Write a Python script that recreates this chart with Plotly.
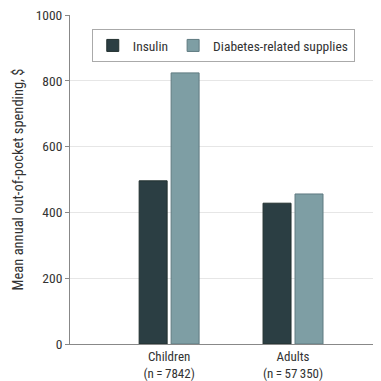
import plotly.graph_objects as go

categories = ["Children<br>(n\u2009=\u20097842)", "Adults<br>(n\u2009=\u200957\u2009350)"]
insulin = [496, 428]
supplies = [824, 456]
series_names = ["Insulin", "Diabetes-related supplies"]
y_ticks = [0, 200, 400, 600, 800, 1000]

FONT = "Liberation Sans Narrow, Arial Narrow, Roboto Condensed, sans-serif"

fig = go.Figure()
fig.add_trace(go.Bar(x=categories, y=insulin, name=series_names[0],
                     marker=dict(color="#2b3e43", line=dict(color="#22302f", width=1))))
fig.add_trace(go.Bar(x=categories, y=supplies, name=series_names[1],
                     marker=dict(color="#7e9ea4", line=dict(color="#5f7a80", width=1))))

# page body has ~8px default margin, so figure is shrunk by 8px and margins offset
fig.update_layout(
    width=373, height=373,
    margin=dict(l=62, r=0, t=7, b=37),
    paper_bgcolor="white", plot_bgcolor="white",
    barmode="group", bargap=0.484, bargroupgap=0.125,
    font=dict(family=FONT, size=13, color="#333"),
    legend=dict(orientation="h", x=0.07, y=0.957, xanchor="left", yanchor="top",
                bordercolor="#aaaaaa", borderwidth=1, bgcolor="white",
                itemwidth=30, font=dict(size=13.5, color="#333")),
    showlegend=True,
)
fig.update_xaxes(range=[-0.8, 1.71], showline=True, linecolor="#888", linewidth=1,
                 ticks="", showgrid=False, automargin=False,
                 tickfont=dict(size=13, color="#333"))
fig.update_yaxes(range=[0, 1000], tickvals=y_ticks, showline=True, linecolor="#888",
                 linewidth=1, ticks="outside", ticklen=4, tickcolor="#888",
                 ticklabeloverflow="allow", automargin=False,
                 gridcolor="#e6e6e6", gridwidth=1, zeroline=False,
                 title=dict(text="Mean annual out-of-pocket spending, $", standoff=8,
                            font=dict(size=14.5, color="#333")),
                 tickfont=dict(size=13.5, color="#333"))

fig.write_html("out.html")
